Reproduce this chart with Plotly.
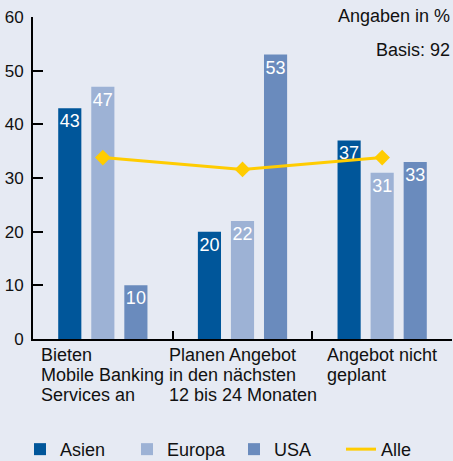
import plotly.graph_objects as go

categories = ["Bieten<br>Mobile Banking<br>Services an",
              "Planen Angebot<br>in den nächsten<br>12 bis 24 Monaten",
              "Angebot nicht<br>geplant"]
cat_keys = ["c1", "c2", "c3"]
asien = [43, 20, 37]
europa = [47, 22, 31]
usa = [10, 53, 33]
alle = [33.8, 31.6, 33.8]
y_ticks = [0, 10, 20, 30, 40, 50, 60]

BG = "#E6EAF3"
FONT = "Liberation Sans, Arial, sans-serif"

fig = go.Figure()
for name, vals, col in [("Asien", asien, "#00569A"),
                        ("Europa", europa, "#9DB2D5"),
                        ("USA", usa, "#6A8BBD")]:
    fig.add_trace(go.Bar(
        x=cat_keys, y=vals, name=name, marker_color=col, marker_line_width=0,
        text=[str(v) for v in vals], textposition="inside", textangle=0,
        insidetextanchor="end", constraintext="none",
        textfont=dict(color="white", size=18, family=FONT),
        hoverinfo="skip"))

fig.add_trace(go.Scatter(
    x=cat_keys, y=alle, mode="lines+markers", name="Alle", showlegend=False,
    line=dict(color="#FFCC00", width=3),
    marker=dict(symbol="diamond", size=12, color="#FFCC00")))
fig.add_trace(go.Scatter(
    x=[None], y=[None], mode="lines", name="Alle",
    line=dict(color="#FFCC00", width=3)))

for key, label in zip(cat_keys, categories):
    styled = "<br>".join("<span style='font-size:18px'>%s</span>" % ln
                         for ln in label.split("<br>"))
    fig.add_annotation(x=key, y=0, xref="x", yref="paper", text=styled,
                       showarrow=False, xanchor="center", yanchor="top",
                       align="left", yshift=-4,
                       font=dict(size=15.4, color="#111", family=FONT))

fig.add_annotation(x=1, y=1, xref="paper", yref="paper", yshift=1,
                   text="Angaben in %", showarrow=False, xanchor="right",
                   yanchor="middle", font=dict(size=18, color="#111", family=FONT))
fig.add_annotation(x=1, y=1, xref="paper", yref="paper", yshift=-33,
                   text="Basis: 92", showarrow=False, xanchor="right",
                   yanchor="middle", font=dict(size=18, color="#111", family=FONT))

fig.update_layout(
    width=453, height=461,
    margin=dict(l=33, r=1, t=17, b=122, autoexpand=False),
    paper_bgcolor=BG, plot_bgcolor=BG,
    barmode="group", bargap=0.29, bargroupgap=0.3,
    font=dict(family=FONT, size=17, color="#111"),
    showlegend=True,
    legend=dict(orientation="h", x=-0.031, xanchor="left", y=-0.343,
                yanchor="middle", font=dict(size=18, family=FONT),
                entrywidth=62, bgcolor="rgba(0,0,0,0)",
                traceorder="normal"),
    xaxis=dict(range=[-0.5, 2.5], showticklabels=False, showgrid=False,
               showline=True, linecolor="black", linewidth=2,
               ticks="inside", tickson="boundaries", ticklen=8,
               tickwidth=2, tickcolor="black", zeroline=False),
    yaxis=dict(range=[0, 60], tickvals=y_ticks, showgrid=False,
               showline=True, linecolor="black", linewidth=2,
               ticks="inside", ticklen=10, tickwidth=2, tickcolor="black",
               zeroline=False, ticklabelstandoff=4,
               tickfont=dict(size=17, family=FONT)),
)

fig.write_html("out.html", config={"displayModeBar": False},
               post_script="document.body.style.margin='0';document.body.style.overflow='hidden';")
